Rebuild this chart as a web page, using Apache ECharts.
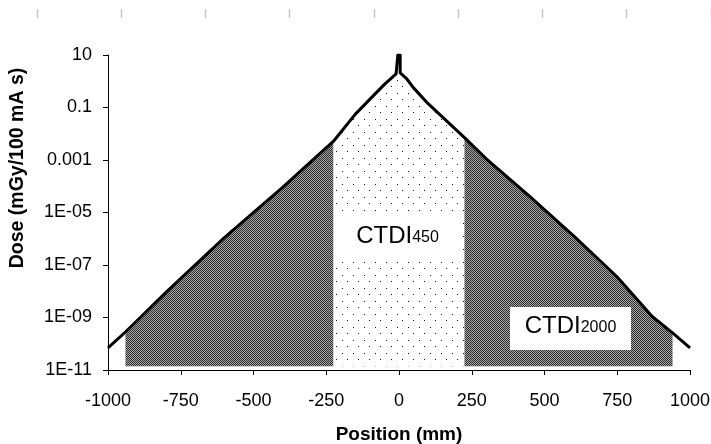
<!DOCTYPE html>
<html>
<head>
<meta charset="utf-8">
<script src="https://cdn.jsdelivr.net/npm/echarts@6/dist/echarts.min.js"></script>
<style>
  html, body { margin: 0; padding: 0; background: #fff; }
  #chart { width: 711px; height: 444px; }
</style>
</head>
<body>
<div id="chart"></div>
<script>
// Dose profile along the z axis (mm), log dose scale
const curvePos  = [-1000, -940, -800, -600, -400, -225, -150, -50, -10, 10, 25, 50, 100, 225, 300, 450, 600, 750, 870, 940, 1000];
const curveDose = [7.0e-11, 2.8e-10, 9.3e-9, 1.1e-6, 9.0e-5, 5.2e-3, 5.6e-2, 0.76, 1.9, 2.0, 1.3, 0.56, 0.14, 7.1e-3, 1.1e-3, 4.0e-5, 1.3e-6, 3.5e-8, 1.1e-9, 2.6e-10, 6.9e-11];
// narrow primary-beam peak at the centre
const spikePos  = [-4, -4, 4, 4];
const spikeDose = [2.1, 10, 10, 2.1];
// integration ranges: CTDI2000 (outer), CTDI450 (inner)
const bandEdges = [-940, -225, 225, 940];
const bandBase = 1.4e-11;
// y tick labels, from 1E-11 up to 10 in steps of two decades
const yTickLabels = ['1E-11', '1E-09', '1E-07', '1E-05', '0.001', '0.1', '10'];

const FONT = '"Liberation Sans", Arial, sans-serif';

function makePattern(w, h, draw) {
  const c = document.createElement('canvas');
  c.width = w; c.height = h;
  const ctx = c.getContext('2d');
  draw(ctx);
  return { image: c, repeat: 'repeat' };
}
// fine dithered dark grey
const darkFill = makePattern(2, 2, ctx => {
  ctx.fillStyle = '#a8a8a8'; ctx.fillRect(0, 0, 2, 2);
  ctx.fillStyle = '#2c2c2c'; ctx.fillRect(0, 0, 1, 1); ctx.fillRect(1, 1, 1, 1);
});
// sparse dots on white
const dotFill = makePattern(11, 13, ctx => {
  ctx.fillStyle = '#fff'; ctx.fillRect(0, 0, 11, 13);
  ctx.fillStyle = '#111'; ctx.fillRect(1, 2, 1, 1); ctx.fillRect(6, 8, 1, 1);
});

const curvePoints = curvePos.map((x, i) => [x, curveDose[i]]);
const linePoints = curvePoints.filter(p => p[0] < spikePos[0])
  .concat(spikePos.map((x, i) => [x, spikeDose[i]]))
  .concat(curvePoints.filter(p => p[0] > spikePos[3]));

function band(a, b) {
  return curvePoints.filter(p => p[0] >= a && p[0] <= b);
}

function areaSeries(data, fill) {
  return {
    type: 'line', data, showSymbol: false, silent: true,
    lineStyle: { width: 0, opacity: 0 },
    areaStyle: { color: fill, opacity: 1, origin: bandBase },
    z: 1
  };
}

const rulerMarks = [];
for (let i = 0; i < 9; i++) {
  const x = Math.round(36.5 + i * 84.25) + 0.5;
  rulerMarks.push({ type: 'line', shape: { x1: x, y1: 9, x2: x, y2: 18 }, style: { stroke: '#c4c4c4', lineWidth: 1.5 }, z: 100 });
}

function subText(main, sub) {
  return {
    text: '{a|' + main + '}{b|' + sub + '}', align: 'center', verticalAlign: 'bottom',
    rich: {
      a: { fontFamily: FONT, fontSize: 24, fill: '#000', verticalAlign: 'bottom', lineHeight: 24 },
      b: { fontFamily: FONT, fontSize: 16, fill: '#000', verticalAlign: 'bottom', lineHeight: 24, padding: [0, 0, 2, 0] }
    }
  };
}

const chart = echarts.init(document.getElementById('chart'));
chart.setOption({
  animation: false,
  backgroundColor: '#fff',
  grid: { left: 108, top: 55, right: 21, bottom: 74, outerBoundsMode: 'none', containLabel: false },
  xAxis: {
    type: 'value', min: -1000, max: 1000, interval: 250,
    name: 'Position (mm)', nameLocation: 'middle', nameGap: 55,
    nameTextStyle: { fontFamily: FONT, fontSize: 19, fontWeight: 'bold', color: '#000' },
    axisLine: { show: true, onZero: false, lineStyle: { color: '#000', width: 1 } },
    axisTick: { show: true, inside: false, length: 5, lineStyle: { color: '#000' } },
    axisLabel: { fontFamily: FONT, fontSize: 18, color: '#000', margin: 22, formatter: v => String(v) },
    splitLine: { show: false }
  },
  yAxis: {
    type: 'log', logBase: 10, min: 1e-11, max: 10, interval: 2,
    axisLine: { show: true, onZero: false, lineStyle: { color: '#000', width: 1 } },
    axisTick: { show: true, inside: false, length: 5, lineStyle: { color: '#000' } },
    axisLabel: {
      fontFamily: FONT, fontSize: 18, color: '#000', margin: 16,
      formatter: v => {
        const e = Math.round(Math.log10(v));
        return yTickLabels[(e + 11) / 2] || '';
      }
    },
    splitLine: { show: false }
  },
  series: [
    areaSeries(band(bandEdges[0], bandEdges[1]), darkFill),
    areaSeries(band(bandEdges[1], bandEdges[2]), dotFill),
    areaSeries(band(bandEdges[2], bandEdges[3]), darkFill),
    {
      type: 'line', data: linePoints, showSymbol: false, silent: true,
      lineStyle: { color: '#000', width: 3, join: 'round' },
      z: 5
    }
  ],
  graphic: rulerMarks.concat([
    {
      type: 'text', x: 18, y: 168, rotation: Math.PI / 2, z: 100,
      style: { text: 'Dose (mGy/100 mA s)', font: 'bold 19.5px ' + FONT, fill: '#000', align: 'center', verticalAlign: 'middle' }
    },
    { type: 'rect', shape: { x: 335, y: 215, width: 124, height: 47 }, style: { fill: '#fff' }, z: 100 },
    { type: 'text', x: 397.5, y: 248, z: 101, style: subText('CTDI', '450') },
    { type: 'rect', shape: { x: 510, y: 307, width: 121, height: 43 }, style: { fill: '#fff' }, z: 100 },
    { type: 'text', x: 570.5, y: 338, z: 101, style: subText('CTDI', '2000') }
  ])
});
</script>
</body>
</html>
